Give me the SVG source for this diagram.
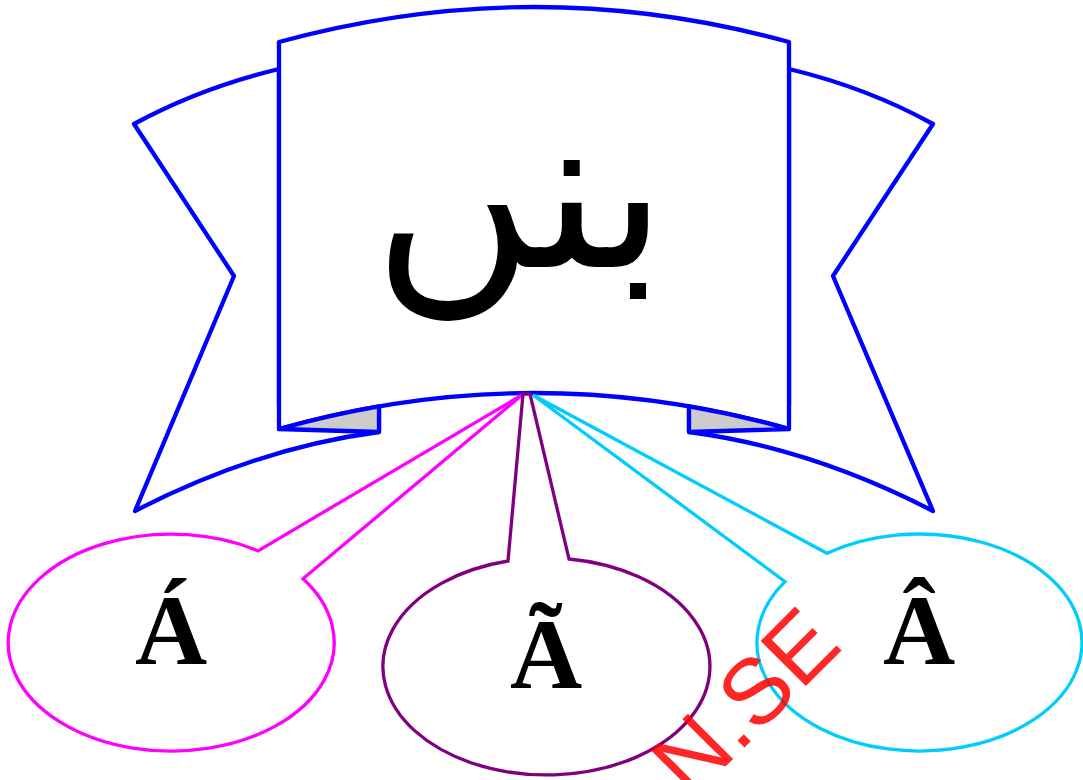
<svg xmlns="http://www.w3.org/2000/svg" width="1083" height="780" viewBox="0 0 1083 780">
<style>
.band{fill:#fff;stroke:#0000ff;stroke-width:4.3;stroke-linejoin:round}
.fold{fill:#cccccc;stroke:#0000ff;stroke-width:4.3;stroke-linejoin:round}
.co{fill:#fff;stroke-width:3.3;stroke-linejoin:miter}
.lbl{font-family:"Liberation Serif","Times New Roman",serif;font-weight:bold;font-size:100px;text-anchor:middle;fill:#000}
.title{font-family:"DejaVu Sans",sans-serif;font-size:219px;text-anchor:middle;fill:#000}
.wm{font-family:"Liberation Sans",Arial,sans-serif;font-size:93px;fill:#ff0000;fill-opacity:0.85}
</style>
<rect width="1083" height="780" fill="#fff"/>
<g id="banner">
<path class="band" d="M279,69 Q200,88 134,124 L234,276 L135,511 Q257,448 379,432 L379,406 L279,406 Z"/>
<path class="band" d="M789,69 Q868,88 933,124 L833,276 L933,511 Q811,448 689,432 L689,406 L789,406 Z"/>
<path class="band" d="M279,42 Q534,-28 789,42 L789,429 Q534,357 279,429 Z"/>
<path class="fold" d="M279,429 Q329,414.9 379,406.3 L379,432 Z"/>
<path class="fold" d="M789,429 Q739,414.9 689,406.3 L689,432 Z"/>
<text class="title" x="520" y="267">بنں</text>
</g>
<g id="callout-a">
<path class="co" stroke="#ff00ff" d="M303,578.8 A163,108.5 0 1 1 258,550.8 L522,395 Z"/>
<text class="lbl" x="171" y="664">Á</text>
</g>
<g id="callout-b">
<path class="co" stroke="#800080" d="M569,559 A163.5,108.5 0 1 1 508,561 L523,394 L530,394 Z"/>
<text class="lbl" x="546" y="688">Ã</text>
</g>
<g id="callout-c">
<path class="co" stroke="#00ccff" d="M785,581.6 A162.5,108.5 0 1 0 827,553.3 L533,395 Z"/>
<text class="lbl" x="919" y="664">Â</text>
</g>
<g id="connectors"></g>
<text class="wm" x="691" y="801" transform="rotate(-45 691 801)">N.SE</text>
</svg>
